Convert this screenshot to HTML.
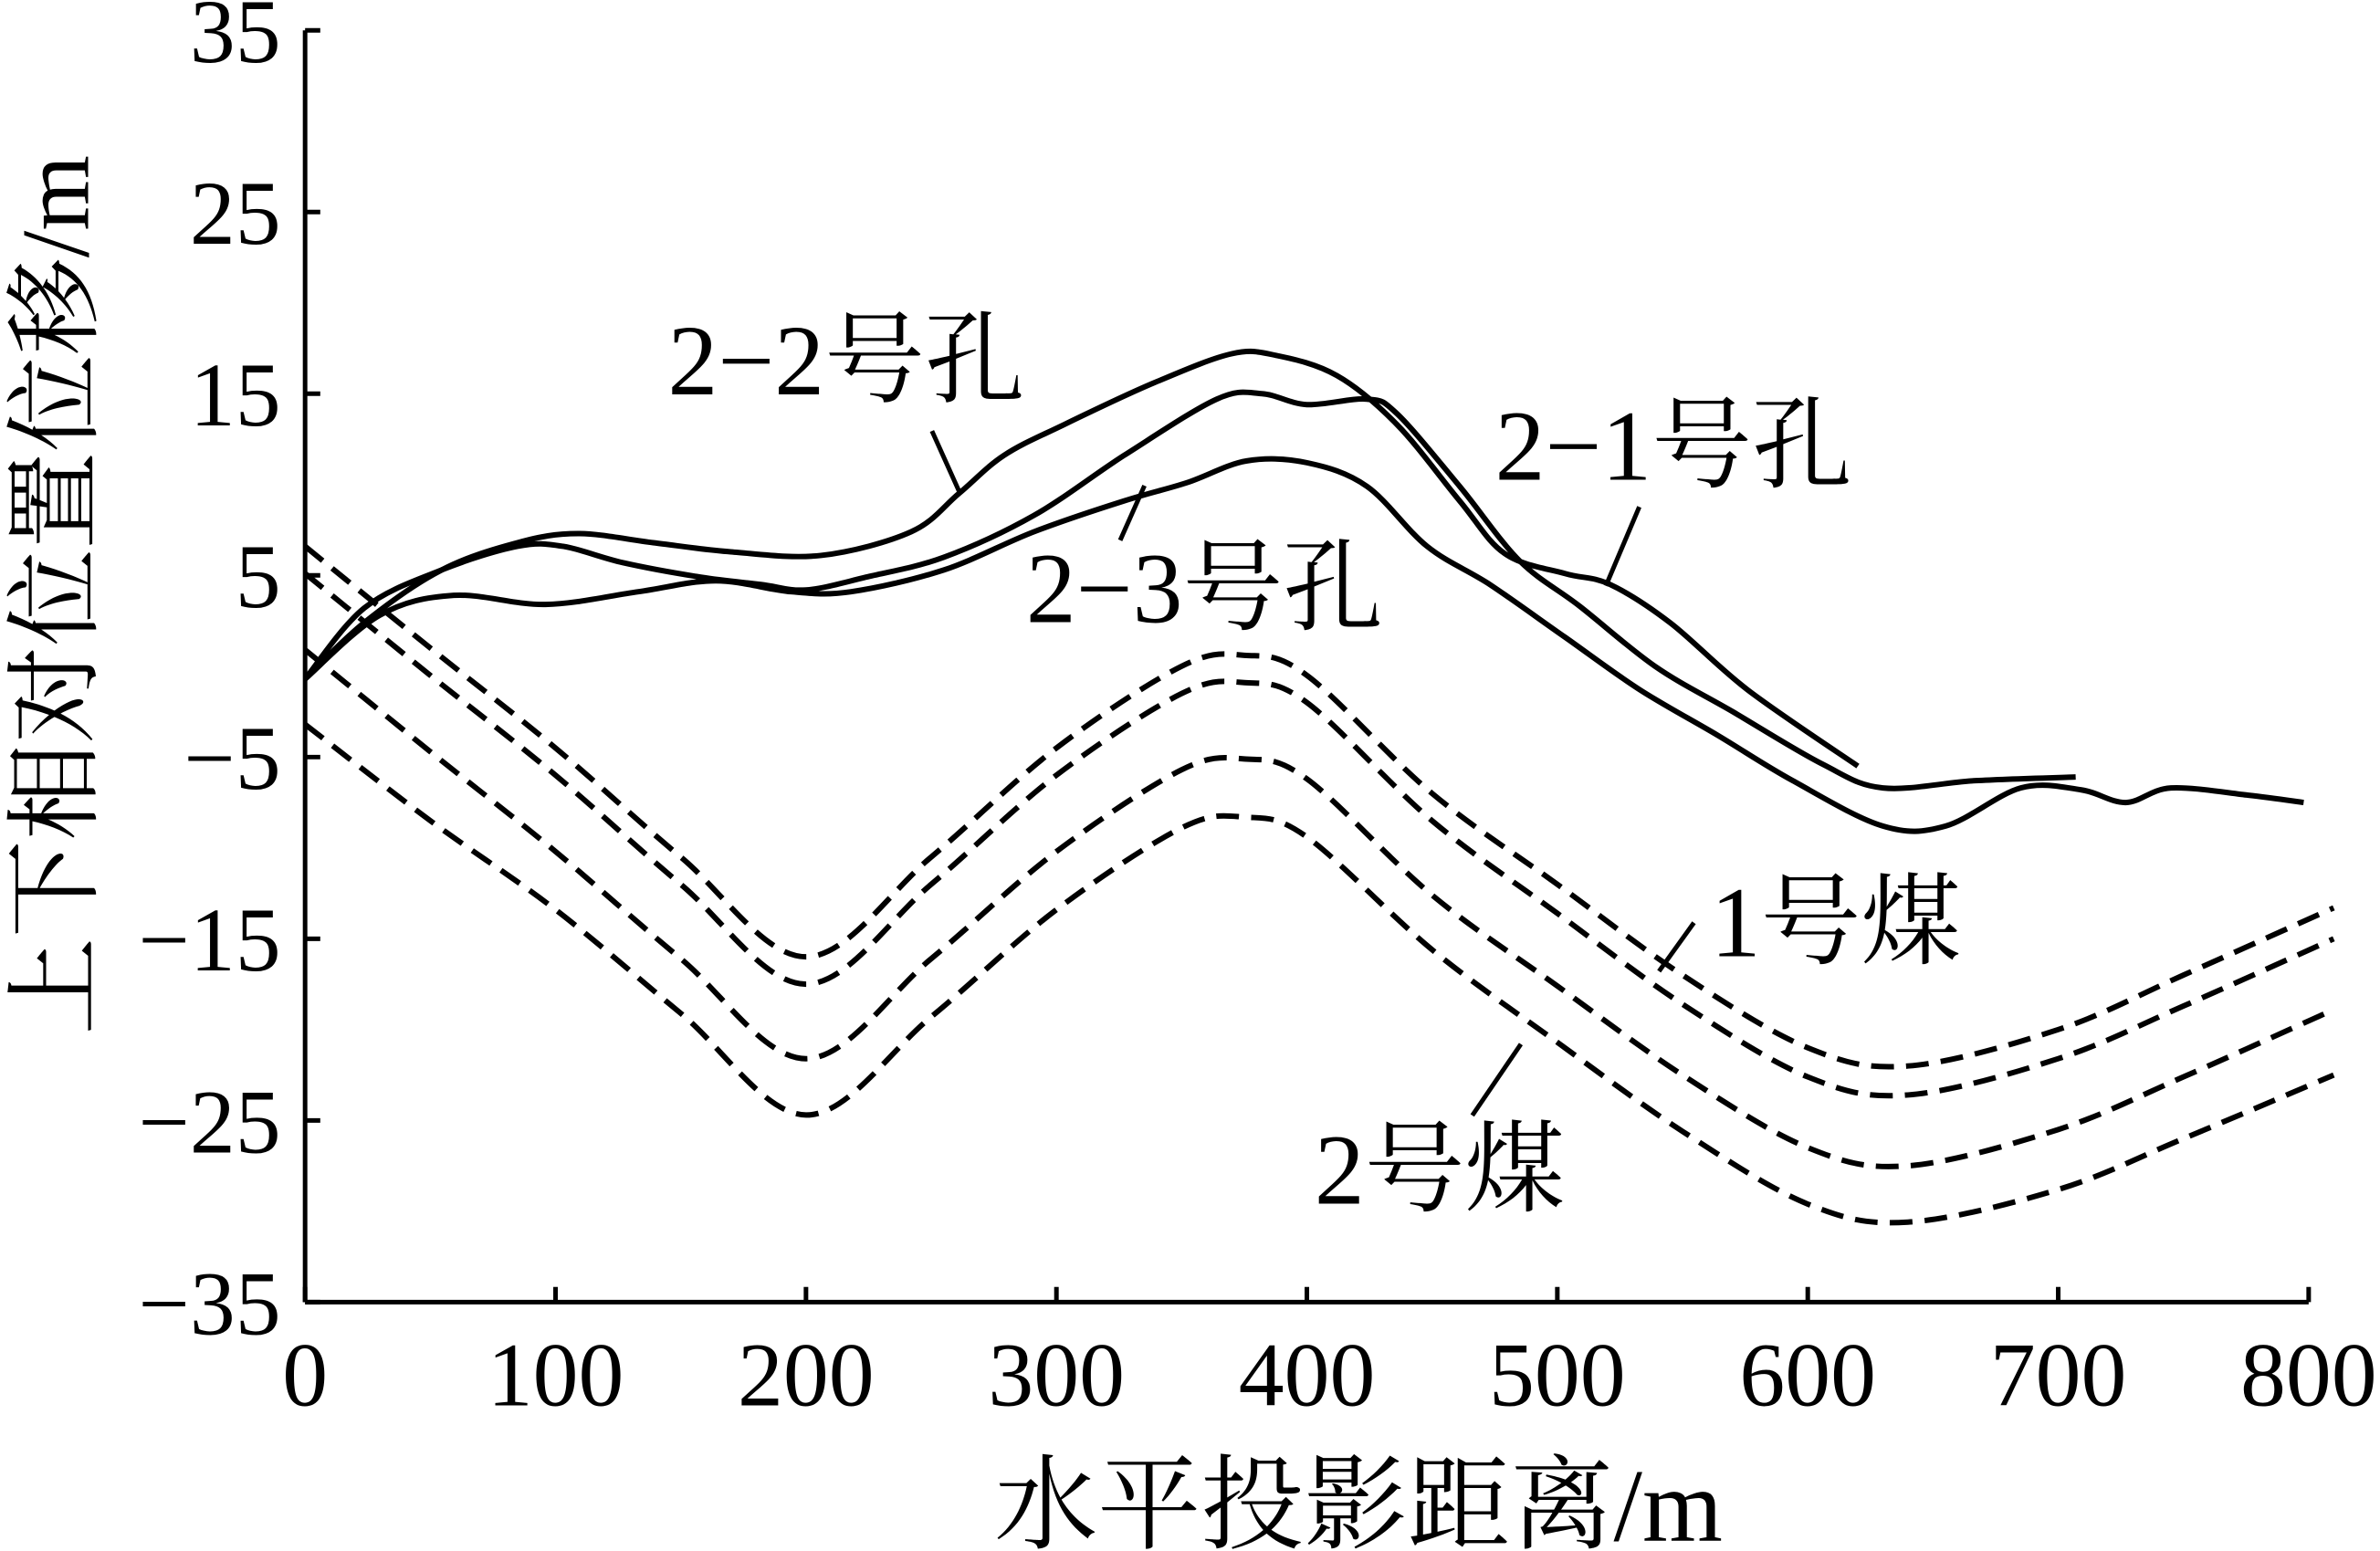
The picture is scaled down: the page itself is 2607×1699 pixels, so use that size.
<!DOCTYPE html>
<html><head><meta charset="utf-8"><style>
html,body{margin:0;padding:0;background:#fff}
svg{display:block}
text{font-family:"Liberation Serif","Noto Serif CJK SC",serif;fill:#000}
</style></head><body>
<svg id="chart" width="2607" height="1699" viewBox="0 0 1568 1022" preserveAspectRatio="none" xmlns="http://www.w3.org/2000/svg">
<g id="axes"></g>
<g id="series"></g>
<g>
<text x="440" y="260" font-size="66">2−2号孔</text>
<line x1="614" y1="284" x2="632" y2="324" stroke="#000" stroke-width="3"/>
<text x="985" y="316" font-size="66">2−1号孔</text>
<line x1="1080" y1="334" x2="1058" y2="386" stroke="#000" stroke-width="3"/>
<text x="676" y="410" font-size="66">2−3号孔</text>
<line x1="738" y1="356" x2="754" y2="320" stroke="#000" stroke-width="3"/>
<text x="1127" y="630" font-size="66">1号煤</text>
<line x1="1116" y1="608" x2="1093" y2="640" stroke="#000" stroke-width="3"/>
<text x="866" y="793" font-size="66">2号煤</text>
<line x1="1002" y1="688" x2="970" y2="735" stroke="#000" stroke-width="3"/>
</g>
</svg>
<script>
const xTicks=[0,100,200,300,400,500,600,700,800];
const yTicks=[35,25,15,5,-5,-15,-25,-35];
const yTickLabels=["35","25","15","5","−5","−15","−25","−35"];
const holeA_x=[0,23.6,54.5,84.8,109,139,170,206,242,261,279,303,339,370,388,412,436,461,479,503,521,545,576,620];
const holeA_y=[-0.7,2.4,5.3,6.8,7.3,6.8,6.3,6.1,7.4,9.5,11.6,13.3,15.6,17.2,17.1,16,13.3,9.1,6.2,5.1,4.5,2.4,-1.3,-5.5];
const holeB_x=[0,23.6,54.5,84.8,103,127,158,182,200,224,255,291,327,364,382,400,424,436,461,485,509,539,570,606,630,667,707];
const holeB_y=[-0.7,3.2,5.3,6.6,6.6,5.7,4.9,4.5,4.2,4.9,6,8.3,11.6,14.7,15,14.4,14.7,13.9,9.9,5.8,3.3,0,-2.5,-5.4,-6.7,-6.3,-6.1];
const holeC_x=[0,29.7,59.4,96,133,164,194,218,255,291,327,352,376,400,424,448,473,503,533,564,594,630,655,685,709,727,745,776,798];
const holeC_y=[-0.7,2.8,3.9,3.4,4.1,4.7,4.1,4.1,5.3,7.4,9.1,10.1,11.3,11.2,9.9,6.6,4.5,1.6,-1.3,-3.8,-6.3,-8.8,-8.8,-6.7,-6.8,-7.5,-6.7,-7.1,-7.5];
const coalX=[0,50,100,150,200,250,300,350,375,400,450,500,550,600,640,700,750,810];
const coal1a_y=[6.6,1,-4.5,-10.5,-16,-10.5,-4.5,0,0.6,-0.5,-7,-12,-17,-21,-22,-20,-17,-13.3];
const coal1b_y=[5.1,-0.5,-6,-12,-17.5,-12,-6,-1.5,-0.9,-2,-8.5,-13.6,-18.6,-22.6,-23.6,-21.6,-18.7,-15];
const coal2a_y=[0.9,-4.7,-10.2,-16.1,-21.6,-16.1,-10.2,-5.7,-5.1,-6.2,-12.6,-17.6,-22.5,-26.5,-27.5,-25.5,-22.6,-18.9];
const coal2b_y=[-3.2,-8.5,-13.4,-19.1,-24.7,-19.3,-13.4,-8.9,-8.3,-9.4,-15.6,-20.7,-25.6,-29.6,-30.6,-28.8,-26,-22.5];
const NS="http://www.w3.org/2000/svg";
const X0=201,X1=1521,Y0=858,Y1=20;
function sx(v){return X0+(v/800)*(X1-X0);}
function sy(v){return Y0-((v+35)/70)*(Y0-Y1);}
function mk(tag,attrs,parent){const e=document.createElementNS(NS,tag);for(const k in attrs)e.setAttribute(k,attrs[k]);parent.appendChild(e);return e;}
const axes=document.getElementById('axes');
let l=mk('line',{x1:X0,y1:Y1,x2:X0,y2:Y0,stroke:'#000','stroke-width':3},axes);


l=mk('line',{x1:X0,y1:Y0,x2:X1,y2:Y0,stroke:'#000','stroke-width':3},axes);


xTicks.forEach(function(v){
 const t=mk('line',{x1:sx(v),y1:Y0,x2:sx(v),y2:Y0-10,stroke:'#000','stroke-width':3},axes);
 
 
 const tx=mk('text',{x:sx(v),y:926,'font-size':60,'text-anchor':'middle'},axes);
 tx.textContent=String(v);
 
 
});
yTicks.forEach(function(v,i){
 const t=mk('line',{x1:X0,y1:sy(v),x2:X0+10,y2:sy(v),stroke:'#000','stroke-width':3},axes);
 
 
 const tx=mk('text',{x:185,y:sy(v)+21,'font-size':60,'text-anchor':'end'},axes);
 tx.textContent=yTickLabels[i];
 
 
});
let tt=mk('text',{x:895,y:1015,'font-size':68,'text-anchor':'middle'},axes);
tt.textContent='水平投影距离/m';


tt=mk('text',{x:0,y:0,'font-size':64,'text-anchor':'middle',transform:'translate(58,392) rotate(-90)'},axes);
tt.textContent='上下相对位置位移/m';


function pathD(xs,ys){
 const p=xs.map(function(x,i){return [sx(x),sy(ys[i])];});
 let d='M'+p[0][0].toFixed(1)+','+p[0][1].toFixed(1);
 for(let i=0;i<p.length-1;i++){
  const p0=p[i-1]||p[i],p1=p[i],p2=p[i+1],p3=p[i+2]||p2;
  const c1=[p1[0]+(p2[0]-p0[0])/6,p1[1]+(p2[1]-p0[1])/6];
  const c2=[p2[0]-(p3[0]-p1[0])/6,p2[1]-(p3[1]-p1[1])/6];
  d+=' C'+c1[0].toFixed(1)+','+c1[1].toFixed(1)+' '+c2[0].toFixed(1)+','+c2[1].toFixed(1)+' '+p2[0].toFixed(1)+','+p2[1].toFixed(1);
 }
 return d;
}
const series=document.getElementById('series');
function draw(xs,ys,dashed,name){
 const a={d:pathD(xs,ys),fill:'none',stroke:'#000','stroke-width':3.6,'stroke-linejoin':'round'};
 if(dashed)a['stroke-dasharray']='15 8';
 const e=mk('path',a,series);
 
 
}
draw(holeA_x,holeA_y,false,'line-hole-2-1');
draw(holeB_x,holeB_y,false,'line-hole-2-2');
draw(holeC_x,holeC_y,false,'line-hole-2-3');
draw(coalX,coal1a_y,true,'line-coal-1-roof');
draw(coalX,coal1b_y,true,'line-coal-1-floor');
draw(coalX,coal2a_y,true,'line-coal-2-roof');
draw(coalX,coal2b_y,true,'line-coal-2-floor');
</script>
</body></html>
